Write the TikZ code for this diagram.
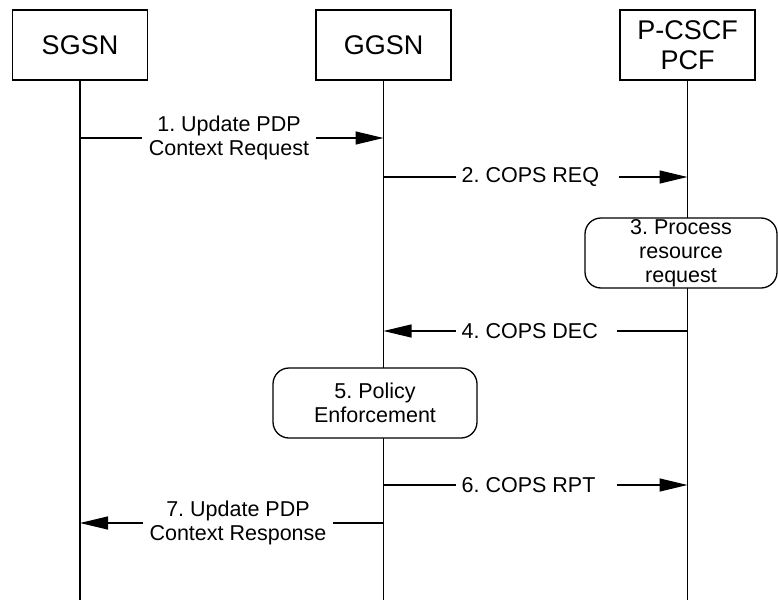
\documentclass[tikz,border=0pt]{standalone}
\usepackage{fontspec}
\setmainfont{Liberation Sans}
\usetikzlibrary{arrows.meta}
\frenchspacing
\begin{document}
\begin{tikzpicture}[x=1pt,y=-1pt,line width=1.3pt,
  actor/.style={draw, fill=white, minimum width=135pt, minimum height=70pt, inner sep=0pt,
    align=center, font=\fontsize{27}{30}\selectfont},
  proc/.style={draw, fill=white, rounded corners=16pt, minimum height=70pt, inner sep=0pt,
    align=center, font=\fontsize{21.5}{24}\selectfont},
  lifeline/.style={draw},
  msg/.style={draw, -{Triangle[length=28pt,width=13pt]}},
  lbl/.style={fill=white, inner ysep=0pt, inner xsep=7pt, align=center,
    font=\fontsize{21.5}{24}\selectfont},
  lblw/.style={lbl, anchor=west, inner xsep=6pt}
]
\useasboundingbox (0,0) rectangle (778,599);
% actors
\node[actor] (sgsn) at (80,45) {SGSN};
\node[actor] (ggsn) at (383.5,45) {GGSN};
\node[actor] (pcf) at (687.5,45) {P-CSCF\\PCF};
% lifeline ends
\coordinate (sgsnE) at (80,600);
\coordinate (ggsnE) at (383.5,600);
\coordinate (pcfE) at (687.5,600);
\draw[lifeline] (sgsn.south) -- (sgsnE);
\draw[lifeline] (ggsn.south) -- (ggsnE);
\draw[lifeline] (pcf.south) -- (pcfE);
% process boxes
\node[proc, minimum width=192pt] (p3) at (681,253) {3. Process\\resource\\request};
\node[proc, minimum width=204pt] (p5) at (375,403) {5. Policy\\Enforcement};
% message anchor points
\coordinate (s1) at (80,138);   \coordinate (g1) at (383.5,138);
\coordinate (g2) at (383.5,177); \coordinate (c2) at (687.5,177);
\coordinate (g4) at (383.5,331); \coordinate (c4) at (687.5,331);
\coordinate (g6) at (383.5,485); \coordinate (c6) at (687.5,485);
\coordinate (s7) at (80,523);   \coordinate (g7) at (383.5,523);
% messages
\draw[msg] (s1) -- (g1);
\node[lbl] (l1) at (229,138) {1. Update PDP\\Context Request};
\draw[msg] (g2) -- (c2);
\node[lblw] (l2) at (455,177) {2. COPS REQ\hspace{14pt}};
\draw[msg] (c4) -- (g4);
\node[lblw] (l4) at (455,331) {4. COPS DEC\hspace{13pt}};
\draw[msg] (g6) -- (c6);
\node[lblw] (l6) at (455,485) {6. COPS RPT\hspace{16pt}};
\draw[msg] (g7) -- (s7);
\node[lbl] (l7) at (238,523) {7. Update PDP\\Context Response};
\end{tikzpicture}
\end{document}
